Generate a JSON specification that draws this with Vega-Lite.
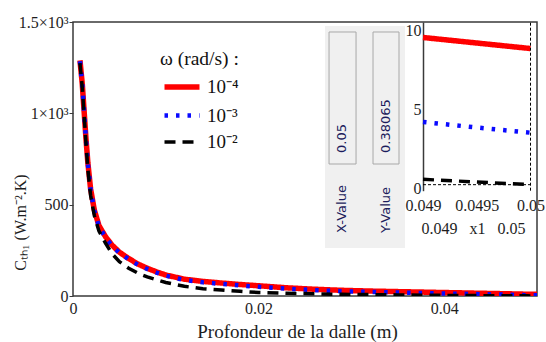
{
  "$schema": "https://vega.github.io/schema/vega-lite/v6.json",
  "width": 464,
  "height": 274,
  "autosize": {"type": "none"},
  "padding": {"left": 73, "top": 22, "right": 9, "bottom": 46},
  "background": "#ffffff",
  "config": {
    "view": {"stroke": "#3a3a3a", "strokeWidth": 1.5},
    "axis": {"grid": false, "labelFont": "Liberation Serif, Times New Roman, serif", "labelFontSize": 16, "labelColor": "#1e1e1e", "titleFont": "Liberation Serif, Times New Roman, serif", "titleFontWeight": "normal", "titleColor": "#1e1e1e", "domainColor": "#3a3a3a", "tickColor": "#3a3a3a", "labelFlush": false, "labelOverlap": false},
    "legend": {"orient": "none", "legendX": 87, "legendY": 28, "padding": 0, "titleFont": "Liberation Serif, Times New Roman, serif", "titleFontSize": 19.5, "titleFontWeight": "normal", "titleColor": "#111111", "labelFont": "Liberation Serif, Times New Roman, serif", "labelFontSize": 19, "labelColor": "#111111", "symbolType": "M-0.8,0H3.2", "symbolSize": 306, "rowPadding": 6, "titlePadding": 6, "labelOffset": 24}
  },
  "datasets": {
    "curves": [
      {"depth": 0.00075, "C": 1290, "omega": "10⁻⁴"},
      {"depth": 0.001, "C": 1160, "omega": "10⁻⁴"},
      {"depth": 0.0012, "C": 1010, "omega": "10⁻⁴"},
      {"depth": 0.0014, "C": 860, "omega": "10⁻⁴"},
      {"depth": 0.0016, "C": 730, "omega": "10⁻⁴"},
      {"depth": 0.0019, "C": 585, "omega": "10⁻⁴"},
      {"depth": 0.0023, "C": 470, "omega": "10⁻⁴"},
      {"depth": 0.0028, "C": 385, "omega": "10⁻⁴"},
      {"depth": 0.0035, "C": 325, "omega": "10⁻⁴"},
      {"depth": 0.0042, "C": 279, "omega": "10⁻⁴"},
      {"depth": 0.005, "C": 240, "omega": "10⁻⁴"},
      {"depth": 0.006, "C": 205, "omega": "10⁻⁴"},
      {"depth": 0.007, "C": 175, "omega": "10⁻⁴"},
      {"depth": 0.008, "C": 152, "omega": "10⁻⁴"},
      {"depth": 0.009, "C": 132, "omega": "10⁻⁴"},
      {"depth": 0.01, "C": 115, "omega": "10⁻⁴"},
      {"depth": 0.012, "C": 92, "omega": "10⁻⁴"},
      {"depth": 0.014, "C": 80, "omega": "10⁻⁴"},
      {"depth": 0.016, "C": 71, "omega": "10⁻⁴"},
      {"depth": 0.018, "C": 63, "omega": "10⁻⁴"},
      {"depth": 0.02, "C": 56, "omega": "10⁻⁴"},
      {"depth": 0.023, "C": 45, "omega": "10⁻⁴"},
      {"depth": 0.026, "C": 37, "omega": "10⁻⁴"},
      {"depth": 0.029, "C": 31, "omega": "10⁻⁴"},
      {"depth": 0.032, "C": 27, "omega": "10⁻⁴"},
      {"depth": 0.035, "C": 24, "omega": "10⁻⁴"},
      {"depth": 0.038, "C": 21, "omega": "10⁻⁴"},
      {"depth": 0.041, "C": 18, "omega": "10⁻⁴"},
      {"depth": 0.044, "C": 15, "omega": "10⁻⁴"},
      {"depth": 0.047, "C": 12, "omega": "10⁻⁴"},
      {"depth": 0.049, "C": 9.7, "omega": "10⁻⁴"},
      {"depth": 0.0495, "C": 9.35, "omega": "10⁻⁴"},
      {"depth": 0.05, "C": 9.0, "omega": "10⁻⁴"},
      {"depth": 0.00075, "C": 1285, "omega": "10⁻³"},
      {"depth": 0.001, "C": 1155, "omega": "10⁻³"},
      {"depth": 0.0012, "C": 1005, "omega": "10⁻³"},
      {"depth": 0.0014, "C": 855, "omega": "10⁻³"},
      {"depth": 0.0016, "C": 725, "omega": "10⁻³"},
      {"depth": 0.0019, "C": 580, "omega": "10⁻³"},
      {"depth": 0.0023, "C": 466, "omega": "10⁻³"},
      {"depth": 0.0028, "C": 381, "omega": "10⁻³"},
      {"depth": 0.0035, "C": 321, "omega": "10⁻³"},
      {"depth": 0.0042, "C": 275, "omega": "10⁻³"},
      {"depth": 0.005, "C": 236, "omega": "10⁻³"},
      {"depth": 0.006, "C": 201, "omega": "10⁻³"},
      {"depth": 0.007, "C": 171, "omega": "10⁻³"},
      {"depth": 0.008, "C": 148, "omega": "10⁻³"},
      {"depth": 0.009, "C": 128, "omega": "10⁻³"},
      {"depth": 0.01, "C": 111, "omega": "10⁻³"},
      {"depth": 0.012, "C": 88, "omega": "10⁻³"},
      {"depth": 0.014, "C": 75, "omega": "10⁻³"},
      {"depth": 0.016, "C": 66, "omega": "10⁻³"},
      {"depth": 0.018, "C": 58, "omega": "10⁻³"},
      {"depth": 0.02, "C": 50, "omega": "10⁻³"},
      {"depth": 0.023, "C": 40, "omega": "10⁻³"},
      {"depth": 0.026, "C": 32, "omega": "10⁻³"},
      {"depth": 0.029, "C": 26, "omega": "10⁻³"},
      {"depth": 0.032, "C": 22, "omega": "10⁻³"},
      {"depth": 0.035, "C": 19, "omega": "10⁻³"},
      {"depth": 0.038, "C": 16, "omega": "10⁻³"},
      {"depth": 0.041, "C": 13, "omega": "10⁻³"},
      {"depth": 0.044, "C": 10, "omega": "10⁻³"},
      {"depth": 0.047, "C": 6.8, "omega": "10⁻³"},
      {"depth": 0.049, "C": 4.35, "omega": "10⁻³"},
      {"depth": 0.0495, "C": 4.0, "omega": "10⁻³"},
      {"depth": 0.05, "C": 3.67, "omega": "10⁻³"},
      {"depth": 0.00075, "C": 1275, "omega": "10⁻²"},
      {"depth": 0.001, "C": 1140, "omega": "10⁻²"},
      {"depth": 0.0012, "C": 990, "omega": "10⁻²"},
      {"depth": 0.0014, "C": 835, "omega": "10⁻²"},
      {"depth": 0.0016, "C": 695, "omega": "10⁻²"},
      {"depth": 0.0019, "C": 550, "omega": "10⁻²"},
      {"depth": 0.0023, "C": 440, "omega": "10⁻²"},
      {"depth": 0.0028, "C": 355, "omega": "10⁻²"},
      {"depth": 0.0035, "C": 290, "omega": "10⁻²"},
      {"depth": 0.0042, "C": 232, "omega": "10⁻²"},
      {"depth": 0.005, "C": 188, "omega": "10⁻²"},
      {"depth": 0.006, "C": 152, "omega": "10⁻²"},
      {"depth": 0.007, "C": 125, "omega": "10⁻²"},
      {"depth": 0.008, "C": 105, "omega": "10⁻²"},
      {"depth": 0.009, "C": 89, "omega": "10⁻²"},
      {"depth": 0.01, "C": 74, "omega": "10⁻²"},
      {"depth": 0.012, "C": 53, "omega": "10⁻²"},
      {"depth": 0.014, "C": 40, "omega": "10⁻²"},
      {"depth": 0.016, "C": 33, "omega": "10⁻²"},
      {"depth": 0.018, "C": 26, "omega": "10⁻²"},
      {"depth": 0.02, "C": 19, "omega": "10⁻²"},
      {"depth": 0.023, "C": 15, "omega": "10⁻²"},
      {"depth": 0.026, "C": 12, "omega": "10⁻²"},
      {"depth": 0.029, "C": 9, "omega": "10⁻²"},
      {"depth": 0.032, "C": 7.5, "omega": "10⁻²"},
      {"depth": 0.035, "C": 6, "omega": "10⁻²"},
      {"depth": 0.038, "C": 4.5, "omega": "10⁻²"},
      {"depth": 0.041, "C": 3, "omega": "10⁻²"},
      {"depth": 0.044, "C": 2, "omega": "10⁻²"},
      {"depth": 0.047, "C": 1.2, "omega": "10⁻²"},
      {"depth": 0.049, "C": 0.72, "omega": "10⁻²"},
      {"depth": 0.0495, "C": 0.55, "omega": "10⁻²"},
      {"depth": 0.05, "C": 0.38065, "omega": "10⁻²"}
    ]
  },
  "resolve": {"scale": {"x": "independent", "y": "independent"}},
  "layer": [
    {
      "layer": [
        {
          "data": {"values": [{}]},
          "mark": {"type": "rect", "fill": "#f0f0f0"},
          "encoding": {
            "x": {"datum": 0.02716, "type": "quantitative", "title": "Profondeur de la dalle (m)"},
            "x2": {"datum": 0.03578},
            "y": {"datum": 262.8, "type": "quantitative", "title": "Cₜₕ₁ (W.m⁻².K)"},
            "y2": {"datum": 1478}
          }
        },
        {
          "data": {"values": [{}]},
          "mark": {"type": "rect", "fill": "#f0f0f0", "stroke": "#a8a8a8", "strokeWidth": 1},
          "encoding": {
            "x": {"datum": 0.02759, "type": "quantitative", "title": "Profondeur de la dalle (m)"},
            "x2": {"datum": 0.0305},
            "y": {"datum": 722.6, "type": "quantitative", "title": "Cₜₕ₁ (W.m⁻².K)"},
            "y2": {"datum": 1445.3}
          }
        },
        {
          "data": {"values": [{}]},
          "mark": {"type": "rect", "fill": "#f0f0f0", "stroke": "#a8a8a8", "strokeWidth": 1},
          "encoding": {
            "x": {"datum": 0.03233, "type": "quantitative", "title": "Profondeur de la dalle (m)"},
            "x2": {"datum": 0.03513},
            "y": {"datum": 722.6, "type": "quantitative", "title": "Cₜₕ₁ (W.m⁻².K)"},
            "y2": {"datum": 1445.3}
          }
        },
        {
          "data": {"values": [{}]},
          "mark": {"type": "text", "angle": 270, "align": "left", "baseline": "middle", "font": "DejaVu Sans", "fontSize": 13, "fill": "#1c1c5c"},
          "encoding": {
            "x": {"datum": 0.02899, "type": "quantitative", "title": "Profondeur de la dalle (m)"},
            "y": {"datum": 782.8, "type": "quantitative", "title": "Cₜₕ₁ (W.m⁻².K)"},
            "text": {"value": "0.05"}
          }
        },
        {
          "data": {"values": [{}]},
          "mark": {"type": "text", "angle": 270, "align": "left", "baseline": "middle", "font": "DejaVu Sans", "fontSize": 13, "fill": "#1c1c5c"},
          "encoding": {
            "x": {"datum": 0.03373, "type": "quantitative", "title": "Profondeur de la dalle (m)"},
            "y": {"datum": 782.8, "type": "quantitative", "title": "Cₜₕ₁ (W.m⁻².K)"},
            "text": {"value": "0.38065"}
          }
        },
        {
          "data": {"values": [{}]},
          "mark": {"type": "text", "angle": 270, "align": "left", "baseline": "middle", "font": "DejaVu Sans", "fontSize": 13, "fill": "#1c1c5c"},
          "encoding": {
            "x": {"datum": 0.02899, "type": "quantitative", "title": "Profondeur de la dalle (m)"},
            "y": {"datum": 344.9, "type": "quantitative", "title": "Cₜₕ₁ (W.m⁻².K)"},
            "text": {"value": "X-Value"}
          }
        },
        {
          "data": {"values": [{}]},
          "mark": {"type": "text", "angle": 270, "align": "left", "baseline": "middle", "font": "DejaVu Sans", "fontSize": 13, "fill": "#1c1c5c"},
          "encoding": {
            "x": {"datum": 0.03373, "type": "quantitative", "title": "Profondeur de la dalle (m)"},
            "y": {"datum": 344.9, "type": "quantitative", "title": "Cₜₕ₁ (W.m⁻².K)"},
            "text": {"value": "Y-Value"}
          }
        },
        {
          "data": {"name": "curves"},
          "mark": {"type": "line", "clip": true},
          "encoding": {
            "x": {
              "field": "depth", "type": "quantitative",
              "scale": {"domain": [0, 0.05], "nice": false, "zero": false},
              "title": "Profondeur de la dalle (m)",
              "axis": {"orient": "bottom", "values": [0, 0.02, 0.04], "format": "~g", "ticks": false, "domain": false, "labelPadding": 4, "titleFontSize": 19, "titleX": 224, "titleY": 35, "titleBaseline": "middle"}
            },
            "y": {
              "field": "C", "type": "quantitative",
              "scale": {"domain": [0, 1500], "nice": false},
              "title": "Cₜₕ₁ (W.m⁻².K)",
              "axis": {"orient": "left", "values": [0, 500, 1000, 1500], "labelExpr": "datum.value == 1500 ? '1.5×10³' : datum.value == 1000 ? '1×10³' : datum.label", "domain": false, "ticks": true, "tickSize": 4, "labelPadding": 1, "titleFontSize": 16, "titleAngle": 270, "titleX": -53, "titleY": 200, "titleBaseline": "middle", "titleAlign": "center"}
            },
            "color": {"field": "omega", "type": "nominal", "title": "ω (rad/s) :", "scale": {"domain": ["10⁻⁴", "10⁻³", "10⁻²"], "range": ["#ff0000", "#0a0aff", "#000000"]}},
            "strokeDash": {"field": "omega", "type": "nominal", "title": "ω (rad/s) :", "scale": {"domain": ["10⁻⁴", "10⁻³", "10⁻²"], "range": [[1, 0], [3.5, 8], [11, 7]]}},
            "strokeWidth": {"field": "omega", "type": "ordinal", "title": "ω (rad/s) :", "scale": {"domain": ["10⁻⁴", "10⁻³", "10⁻²"], "range": [5.5, 3.5, 5]}}
          }
        }
      ]
    },
    {
      "layer": [
        {
          "data": {"name": "curves"},
          "transform": [{"filter": "datum.depth >= 0.049"}],
          "mark": {"type": "line", "clip": false},
          "encoding": {
            "x": {
              "field": "depth", "type": "quantitative",
              "scale": {"domain": [0.049, 0.05], "range": [350, 457.5], "nice": false, "zero": false},
              "title": "0.049\u00a0\u00a0\u00a0x1\u00a0\u00a0\u00a00.05",
              "axis": {"orient": "bottom", "offset": -105.3, "values": [0.049, 0.0495, 0.05], "format": "~g", "ticks": false, "domain": false, "labelPadding": 7, "titleFontSize": 16, "titleX": 400, "titleY": 38, "titleBaseline": "middle"}
            },
            "y": {
              "field": "C", "type": "quantitative",
              "scale": {"domain": [0, 10.68], "range": [168.7, 0], "nice": false, "zero": false},
              "title": null,
              "axis": {"orient": "left", "offset": -350, "values": [0, 5, 10], "ticks": false, "domain": true, "domainWidth": 1.5, "labelPadding": 2, "labelBaseline": "alphabetic", "labelOffset": 3}
            },
            "color": {"field": "omega", "type": "nominal", "title": "ω (rad/s) :"},
            "strokeDash": {"field": "omega", "type": "nominal", "title": "ω (rad/s) :"},
            "strokeWidth": {"field": "omega", "type": "ordinal", "title": "ω (rad/s) :"}
          }
        },
        {
          "data": {"values": [{}]},
          "mark": {"type": "rule", "color": "#000000", "strokeWidth": 1, "strokeDash": [3, 2]},
          "encoding": {
            "x": {"datum": 0.05, "type": "quantitative"},
            "y": {"datum": 0, "type": "quantitative"},
            "y2": {"datum": 10.68}
          }
        },
        {
          "data": {"values": [{}]},
          "mark": {"type": "rule", "color": "#000000", "strokeWidth": 1, "strokeDash": [3, 2]},
          "encoding": {
            "x": {"datum": 0.049, "type": "quantitative"},
            "x2": {"datum": 0.05},
            "y": {"datum": 0.38065, "type": "quantitative"}
          }
        }
      ]
    }
  ]
}
